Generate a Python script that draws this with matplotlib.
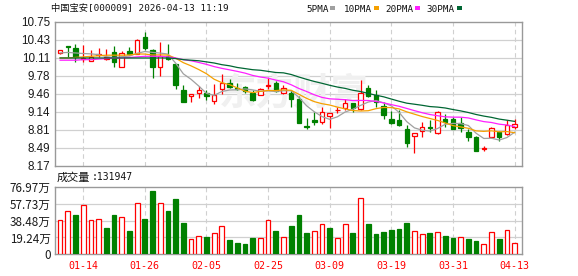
import numpy as np
import pandas as pd
import matplotlib
matplotlib.use('Agg')
import matplotlib.pyplot as plt
from matplotlib.patches import Rectangle

plt.rcParams['font.family'] = ['Noto Sans CJK SC', 'DejaVu Sans']

dates = ['01-09', '01-12', '01-13', '01-14', '01-15', '01-16', '01-19', '01-20', '01-21', '01-22',
         '01-23', '01-26', '01-27', '01-28', '01-29', '01-30', '02-02', '02-03', '02-04', '02-05',
         '02-06', '02-09', '02-10', '02-11', '02-12', '02-13', '02-24', '02-25', '02-26', '02-27',
         '03-02', '03-03', '03-04', '03-05', '03-06', '03-09', '03-10', '03-11', '03-12', '03-13',
         '03-16', '03-17', '03-18', '03-19', '03-20', '03-23', '03-24', '03-25', '03-26', '03-27',
         '03-30', '03-31', '04-01', '04-02', '04-03', '04-07', '04-08', '04-09', '04-10', '04-13']

opens = [10.19, 10.31, 10.28, 10.08, 10.05, 10.15, 10.09, 10.20, 9.94, 10.22,
         10.18, 10.47, 10.24, 9.94, 10.13, 9.99, 9.52, 9.41, 9.47, 9.48,
         9.33, 9.54, 9.66, 9.57, 9.58, 9.47, 9.44, 9.59, 9.66, 9.47,
         9.47, 9.36, 8.88, 8.99, 8.95, 9.06, 9.16, 9.20, 9.29, 9.18,
         9.56, 9.44, 9.24, 9.00, 8.98, 8.83, 8.71, 8.80, 8.86, 8.76,
         9.01, 9.01, 8.93, 8.78, 8.68, 8.47, 8.68, 8.78, 8.73, 8.86]
highs = [10.25, 10.31, 10.35, 10.33, 10.24, 10.28, 10.26, 10.31, 10.22, 10.30,
         10.44, 10.56, 10.26, 10.38, 10.35, 10.00, 9.62, 9.45, 9.59, 9.52,
         9.63, 9.81, 9.72, 9.65, 9.60, 9.53, 9.56, 9.75, 9.69, 9.62,
         9.53, 9.42, 9.02, 9.14, 9.23, 9.12, 9.23, 9.37, 9.30, 9.70,
         9.62, 9.53, 9.31, 9.15, 9.16, 8.90, 8.75, 8.96, 8.99, 9.15,
         9.09, 9.05, 9.05, 8.83, 8.71, 8.52, 8.86, 8.80, 8.98, 9.01]
lows = [10.17, 10.12, 10.03, 10.02, 10.05, 10.12, 10.07, 9.94, 9.93, 10.16,
        10.17, 10.24, 9.75, 9.78, 10.07, 9.54, 9.31, 9.32, 9.38, 9.35,
        9.27, 9.45, 9.57, 9.53, 9.47, 9.33, 9.43, 9.54, 9.49, 9.45,
        9.22, 8.94, 8.82, 8.90, 8.92, 8.84, 9.12, 9.16, 9.13, 9.17,
        9.40, 9.23, 9.00, 8.92, 8.88, 8.50, 8.40, 8.69, 8.78, 8.74,
        8.87, 8.82, 8.78, 8.61, 8.44, 8.44, 8.67, 8.62, 8.72, 8.83]
closes = [10.25, 10.29, 10.11, 10.10, 10.12, 10.18, 10.11, 10.02, 10.19, 10.17,
          10.43, 10.27, 9.94, 10.13, 10.08, 9.62, 9.31, 9.45, 9.53, 9.42,
          9.44, 9.66, 9.58, 9.55, 9.50, 9.35, 9.54, 9.61, 9.50, 9.56,
          9.36, 8.94, 8.86, 8.96, 9.13, 9.11, 9.17, 9.29, 9.20, 9.48,
          9.41, 9.31, 9.08, 8.93, 8.90, 8.58, 8.75, 8.87, 8.85, 9.13,
          8.96, 8.83, 8.85, 8.68, 8.44, 8.49, 8.85, 8.69, 8.90, 8.92]

# volume in 万 (10k lots)
volumes = [38.7, 49.3, 44.7, 55.8, 38.7, 39.9, 29.9, 44.7, 42.1, 26.5,
           58.1, 40.2, 72.1, 58.1, 49.3, 63.0, 36.0, 17.1, 20.5, 19.4,
           23.9, 31.9, 16.3, 12.9, 11.7, 18.6, 18.2, 38.7, 26.5, 19.4,
           32.2, 44.7, 24.3, 26.5, 34.2, 29.9, 18.2, 34.2, 24.3, 63.8,
           34.5, 23.1, 25.4, 27.7, 28.8, 35.6, 26.5, 23.1, 24.3, 25.4,
           20.8, 18.6, 19.4, 17.4, 15.1, 12.0, 25.4, 17.4, 27.7, 13.19]
vol_up = [1, 1, 0, 1, 1, 1, 0, 0, 1, 0,
          1, 0, 0, 1, 0, 0, 0, 1, 1, 0,
          1, 1, 0, 0, 0, 0, 1, 1, 0, 1,
          0, 0, 0, 1, 1, 0, 1, 1, 0, 1,
          0, 0, 0, 0, 0, 0, 1, 1, 0, 1,
          0, 0, 1, 0, 0, 1, 1, 0, 1, 1]

# moving average values before the window is full
ma5_head = [10.19, 10.20, 10.19, 10.18]
ma10_head = [10.10, 10.10, 10.11, 10.12, 10.13, 10.14, 10.15, 10.15, 10.15]
ma20_head = [10.06, 10.06, 10.06, 10.07, 10.07, 10.08, 10.09, 10.10, 10.10, 10.11,
             10.12, 10.13, 10.13, 10.13, 10.12, 10.10, 10.07, 10.05, 10.02]
ma30_head = [10.10, 10.10, 10.10, 10.10, 10.10, 10.10, 10.10, 10.10, 10.10, 10.10,
             10.10, 10.10, 10.10, 10.10, 10.10, 10.09, 10.07, 10.06, 10.05, 10.03,
             10.01, 9.98, 9.96, 9.93, 9.91, 9.89, 9.88, 9.86, 9.84]

price_ticks = ['8.17', '8.49', '8.81', '9.14', '9.46', '9.78', '10.11', '10.43', '10.75']
vol_ticks = ['0', '19.24万', '38.48万', '57.73万', '76.97万']
label_idx = [3, 11, 19, 27, 35, 43, 51, 59]

RED = '#ff0000'
GREEN = '#008000'
GRID = '#d0d0d0'
FRAME = '#999999'
MONO_CJK = ['DejaVu Sans Mono', 'Noto Sans CJK SC']

x = np.arange(len(closes))
o = np.array(opens); c = np.array(closes)
up = c >= o

def ma(n, head):
    s = pd.Series(closes).rolling(n).mean().to_numpy()
    s[:len(head)] = head
    return s

fig = plt.figure(figsize=(5.78, 2.76), dpi=100)
ax1 = fig.add_axes([55.3 / 578, 1 - 165.7 / 276, 467 / 578, 144 / 276])
ax2 = fig.add_axes([55.3 / 578, 1 - 254.3 / 276, 467 / 578, 67.6 / 276])

for ax in (ax1, ax2):
    ax.set_xlim(-0.62, 60.0)
    for s in ax.spines.values():
        s.set_color(FRAME)
        s.set_linewidth(1.0)
    ax.tick_params(length=0)
    ax.set_xticks([])
    for i in label_idx:
        ax.axvline(i, color=GRID, linestyle=(0, (4, 3)), linewidth=0.8, zorder=0)

# price panel
ymin, ymax = 8.17, 10.75
yt = np.linspace(ymin, ymax, len(price_ticks))
ax1.set_ylim(ymin, ymax)
ax1.set_yticks(yt)
ax1.set_yticklabels(price_ticks, fontsize=8.4, family='Liberation Sans', color='#1a1a1a')
for v in yt[1:-1]:
    ax1.axhline(v, color=GRID, linewidth=0.9, zorder=0)

ax1.text(0.51, 0.50, '东方财富', transform=ax1.transAxes, fontsize=27, color='#f0f0f0',
         ha='center', va='center', zorder=0, fontweight='bold')

ax1.vlines(x[up], np.array(lows)[up], np.array(highs)[up], color=RED, linewidth=0.9, zorder=2)
ax1.vlines(x[~up], np.array(lows)[~up], np.array(highs)[~up], color=GREEN, linewidth=0.9, zorder=2)
body_h = np.maximum(np.abs(c - o), 0.006)
body_b = np.minimum(o, c)
ax1.bar(x[up], body_h[up], bottom=body_b[up], width=0.58, facecolor='white',
        edgecolor=RED, linewidth=0.9, zorder=3)
ax1.bar(x[~up], body_h[~up], bottom=body_b[~up], width=0.58, facecolor=GREEN,
        edgecolor=GREEN, linewidth=0.9, zorder=3)

ax1.plot(x, ma(5, ma5_head), color='#a0a0a0', linewidth=0.9, zorder=4)
ax1.plot(x, ma(10, ma10_head), color='#f5a000', linewidth=0.9, zorder=4)
ax1.plot(x, ma(20, ma20_head), color='#ff20ff', linewidth=0.9, zorder=4)
ax1.plot(x, ma(30, ma30_head), color='#006633', linewidth=0.9, zorder=4)

# volume panel
vmax = 76.97
vt = np.linspace(0, vmax, len(vol_ticks))
ax2.set_ylim(0, vmax)
ax2.set_yticks(vt)
ax2.set_yticklabels(vol_ticks, fontsize=8.4, color='#1a1a1a')
for v in vt[1:-1]:
    ax2.axhline(v, color=GRID, linewidth=0.9, zorder=0)
vu = np.array(vol_up, dtype=bool)
vol = np.array(volumes)
ax2.bar(x[vu], vol[vu], width=0.62, facecolor='white', edgecolor=RED, linewidth=0.9, zorder=3)
ax2.bar(x[~vu], vol[~vu], width=0.62, facecolor=GREEN, edgecolor=GREEN, linewidth=0.9, zorder=3)

for i in label_idx:
    ax2.text(i, -0.175, dates[i], transform=ax2.get_xaxis_transform(), ha='center', va='center',
             fontsize=7.2, family='DejaVu Sans Mono', color=RED)

# header texts
fig.text(51 / 578, 1 - 9 / 276, '中国宝安[000009] 2026-04-13 11:19', fontsize=6.7,
         family=MONO_CJK, ha='left', va='center', color='#111111')
fig.text(57 / 578, 1 - 177.5 / 276, '成交量', fontsize=8.0,
         ha='left', va='center', color='#111111')
fig.text(92 / 578, 1 - 177.5 / 276, ':131947', fontsize=7.0, family='DejaVu Sans Mono',
         ha='left', va='center', color='#111111')

legend = [('5PMA', 306, 330, '#a0a0a0'), ('10PMA', 344, 374, '#f5a000'),
          ('20PMA', 385, 415, '#ff20ff'), ('30PMA', 426, 457, '#006633')]
for name, tx, sx, col in legend:
    fig.text(tx / 578, 1 - 9 / 276, name, fontsize=6.7, family='DejaVu Sans Mono',
             ha='left', va='center', color='#111111')
    fig.patches.append(Rectangle((sx / 578, 1 - 10 / 276), 5 / 578, 3.5 / 276,
                                 transform=fig.transFigure, facecolor=col, edgecolor='none'))

fig.savefig('out.png', dpi=100)
